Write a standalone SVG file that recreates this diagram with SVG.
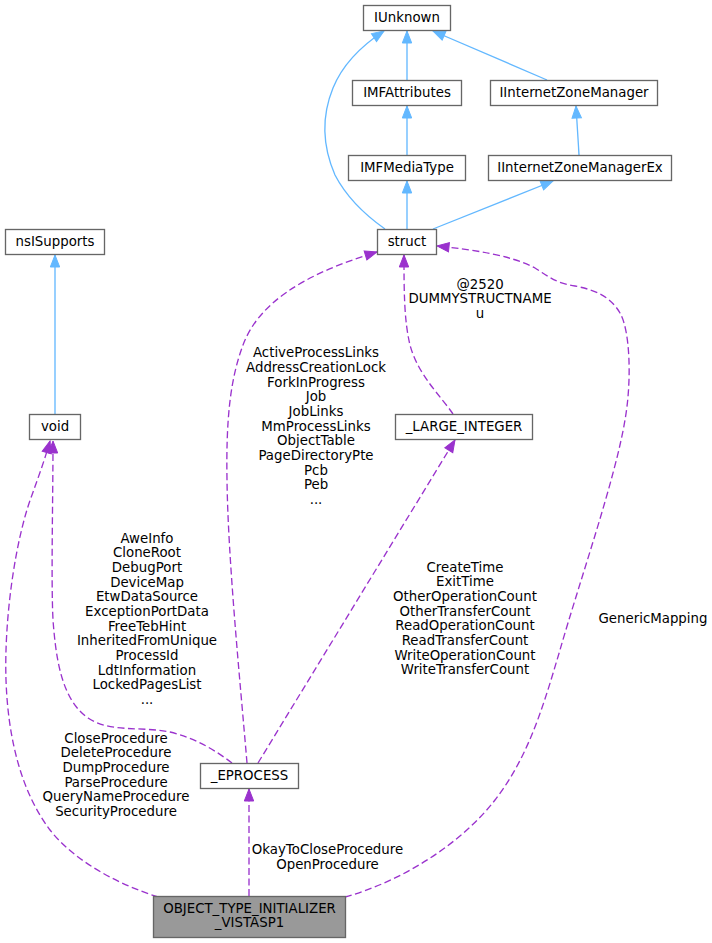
<svg xmlns="http://www.w3.org/2000/svg" width="712" height="943" viewBox="0 0 712 943">
<style>
.node rect{fill:#ffffff;stroke:#666666;stroke-width:1.33}
.node.main rect{fill:#999999}
text{font-family:"DejaVu Sans","Liberation Sans",sans-serif;font-size:13.33px;fill:#000000;text-anchor:middle}
.inh{fill:none;stroke:#63b8ff;stroke-width:1.33}
.use{fill:none;stroke:#9a32cd;stroke-width:1.33;stroke-dasharray:7,3.5}
</style>
<defs>
<marker id="ab" markerUnits="userSpaceOnUse" markerWidth="13" markerHeight="10" refX="12" refY="4.7" orient="auto" overflow="visible"><path d="M0,0 L12,4.7 L0,9.4 z" fill="#63b8ff" stroke="#63b8ff" stroke-width="1"/></marker>
<marker id="ap" markerUnits="userSpaceOnUse" markerWidth="13" markerHeight="10" refX="12" refY="4.7" orient="auto" overflow="visible"><path d="M0,0 L12,4.7 L0,9.4 z" fill="#9a32cd" stroke="#9a32cd" stroke-width="1"/></marker>
</defs>
<g id="edges">
<path class="inh" marker-end="url(#ab)" d="M385,229 C368,217 348,200 335,175 C322,145 322,115 333,88 C342,66 358,48 384,31"/>
<path class="inh" marker-end="url(#ab)" d="M407,80 L407,31"/>
<path class="inh" marker-end="url(#ab)" d="M547,80 L433,31"/>
<path class="inh" marker-end="url(#ab)" d="M407,155 L407,106"/>
<path class="inh" marker-end="url(#ab)" d="M579,155 L576,106"/>
<path class="inh" marker-end="url(#ab)" d="M407,229 L407,181"/>
<path class="inh" marker-end="url(#ab)" d="M433,229 L553,181"/>
<path class="inh" marker-end="url(#ab)" d="M55,414 L55,255"/>
<path class="use" marker-end="url(#ap)" d="M247,763 C240,680 228,560 227,480 C226,420 230,380 243,345 C258,305 300,275 377,252"/>
<text x="316" y="357.3">ActiveProcessLinks</text>
<text x="316" y="372">AddressCreationLock</text>
<text x="316" y="386.6">ForkInProgress</text>
<text x="316" y="401.3">Job</text>
<text x="316" y="416">JobLinks</text>
<text x="316" y="430.6">MmProcessLinks</text>
<text x="316" y="445.3">ObjectTable</text>
<text x="316" y="460">PageDirectoryPte</text>
<text x="316" y="474.6">Pcb</text>
<text x="316" y="489.3">Peb</text>
<text x="316" y="504">...</text>
<path class="use" marker-end="url(#ap)" d="M453,414 C440,395 418,375 410,345 C404,320 404,290 404,255"/>
<text x="480" y="288.7">@2520</text>
<text x="480" y="303.3">DUMMYSTRUCTNAME</text>
<text x="480" y="318">u</text>
<path class="use" marker-end="url(#ap)" d="M345,897 C400,882 460,845 495,800 C530,755 545,700 560,650 C580,580 615,480 625,420 C632,380 630,330 620,313 C610,296 595,290 575,286 C555,283 548,276 535,268 C510,255 475,250 437,246"/>
<text x="653" y="623.3">GenericMapping</text>
<path class="use" marker-end="url(#ap)" d="M232,763 C215,750 195,738 170,732 C140,726 110,733 88,718 C62,700 56,660 53,620 C51,580 53,500 53,441"/>
<text x="147" y="542.7">AweInfo</text>
<text x="147" y="557.3">CloneRoot</text>
<text x="147" y="572">DebugPort</text>
<text x="147" y="586.7">DeviceMap</text>
<text x="147" y="601.3">EtwDataSource</text>
<text x="147" y="616">ExceptionPortData</text>
<text x="147" y="630.7">FreeTebHint</text>
<text x="147" y="645.3">InheritedFromUnique</text>
<text x="147" y="660">ProcessId</text>
<text x="147" y="674.7">LdtInformation</text>
<text x="147" y="689.3">LockedPagesList</text>
<text x="147" y="704">...</text>
<path class="use" marker-end="url(#ap)" d="M258,763 L455,440"/>
<text x="465" y="571.7">CreateTime</text>
<text x="465" y="586.3">ExitTime</text>
<text x="465" y="601">OtherOperationCount</text>
<text x="465" y="615.7">OtherTransferCount</text>
<text x="465" y="630.3">ReadOperationCount</text>
<text x="465" y="645">ReadTransferCount</text>
<text x="465" y="659.7">WriteOperationCount</text>
<text x="465" y="674.3">WriteTransferCount</text>
<path class="use" marker-end="url(#ap)" d="M158,897 C120,885 75,862 50,830 C22,793 8,740 6,680 C4,620 15,540 32,495 C38,478 44,462 50,441"/>
<text x="116" y="742.7">CloseProcedure</text>
<text x="116" y="757.3">DeleteProcedure</text>
<text x="116" y="772">DumpProcedure</text>
<text x="116" y="786.7">ParseProcedure</text>
<text x="116" y="801.3">QueryNameProcedure</text>
<text x="116" y="816">SecurityProcedure</text>
<path class="use" marker-end="url(#ap)" d="M249,896 L249,789"/>
<text x="327.5" y="854">OkayToCloseProcedure</text>
<text x="327.5" y="868.7">OpenProcedure</text>
</g>
<g id="IUnknown" class="node"><rect x="363.5" y="5.5" width="87" height="25"/><text x="407" y="22">IUnknown</text></g>
<g id="IMFAttributes" class="node"><rect x="352.5" y="80.5" width="109" height="25"/><text x="407" y="97">IMFAttributes</text></g>
<g id="IInternetZoneManager" class="node"><rect x="490.5" y="80.5" width="167" height="25"/><text x="574" y="97">IInternetZoneManager</text></g>
<g id="IMFMediaType" class="node"><rect x="348.5" y="155.5" width="117" height="25"/><text x="407" y="172">IMFMediaType</text></g>
<g id="IInternetZoneManagerEx" class="node"><rect x="488.5" y="155.5" width="183" height="25"/><text x="580" y="172">IInternetZoneManagerEx</text></g>
<g id="struct" class="node"><rect x="377.5" y="229.5" width="59" height="25"/><text x="407" y="246">struct</text></g>
<g id="nsISupports" class="node"><rect x="5.5" y="229.5" width="99" height="25"/><text x="55" y="246">nsISupports</text></g>
<g id="void" class="node"><rect x="29.5" y="414.5" width="51" height="25"/><text x="55" y="431">void</text></g>
<g id="LARGE_INTEGER" class="node"><rect x="395.5" y="414.5" width="137" height="25"/><text x="464" y="431">_LARGE_INTEGER</text></g>
<g id="EPROCESS" class="node"><rect x="200.5" y="763.5" width="98" height="25"/><text x="249.5" y="780">_EPROCESS</text></g>
<g id="OBJECT_TYPE_INITIALIZER_VISTASP1" class="node main"><rect x="153.5" y="896.5" width="192" height="41"/><text x="249.5" y="912.5">OBJECT_TYPE_INITIALIZER</text><text x="249.5" y="927">_VISTASP1</text></g>
</svg>
